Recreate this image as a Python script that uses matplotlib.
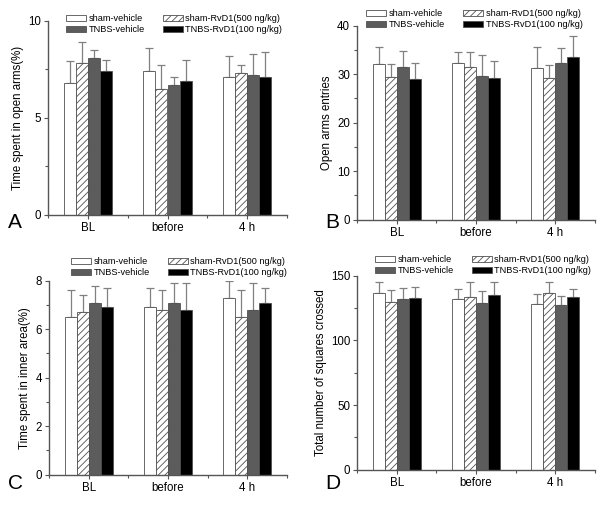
import matplotlib
matplotlib.use("Agg")
import matplotlib.pyplot as plt
import numpy as np
from matplotlib.ticker import MultipleLocator, FixedLocator

plt.rcParams['font.family'] = ['Liberation Sans', 'DejaVu Sans']
plt.rcParams['hatch.color'] = '#808080'
plt.rcParams['hatch.linewidth'] = 0.6

categories = ["BL", "before", "4 h"]
groups = ["sham-vehicle", "sham-RvD1(500 ng/kg)", "TNBS-vehicle", "TNBS-RvD1(100 ng/kg)"]

# Panel A: time spent in open arms (%)
a_mean = {"sham-vehicle": [6.8, 7.4, 7.1],
          "sham-RvD1(500 ng/kg)": [7.8, 6.5, 7.3],
          "TNBS-vehicle": [8.1, 6.7, 7.2],
          "TNBS-RvD1(100 ng/kg)": [7.4, 6.9, 7.1]}
a_err = {"sham-vehicle": [1.1, 1.2, 1.1],
         "sham-RvD1(500 ng/kg)": [1.1, 1.2, 0.4],
         "TNBS-vehicle": [0.4, 0.4, 1.1],
         "TNBS-RvD1(100 ng/kg)": [0.6, 1.1, 1.3]}

# Panel B: open arms entries
b_mean = {"sham-vehicle": [32.0, 32.2, 31.3],
          "sham-RvD1(500 ng/kg)": [29.4, 31.5, 29.2],
          "TNBS-vehicle": [31.5, 29.6, 32.2],
          "TNBS-RvD1(100 ng/kg)": [28.9, 29.3, 33.5]}
b_err = {"sham-vehicle": [3.5, 2.4, 4.4],
         "sham-RvD1(500 ng/kg)": [2.6, 3.1, 2.6],
         "TNBS-vehicle": [3.3, 4.3, 3.1],
         "TNBS-RvD1(100 ng/kg)": [3.3, 3.5, 4.3]}

# Panel C: time spent in inner area (%)
c_mean = {"sham-vehicle": [6.5, 6.9, 7.3],
          "sham-RvD1(500 ng/kg)": [6.7, 6.8, 6.5],
          "TNBS-vehicle": [7.1, 7.1, 6.8],
          "TNBS-RvD1(100 ng/kg)": [6.9, 6.8, 7.1]}
c_err = {"sham-vehicle": [1.1, 0.8, 0.7],
         "sham-RvD1(500 ng/kg)": [0.7, 0.8, 1.1],
         "TNBS-vehicle": [0.7, 0.8, 1.1],
         "TNBS-RvD1(100 ng/kg)": [0.8, 1.1, 0.6]}

# Panel D: total number of squares crossed
d_mean = {"sham-vehicle": [136.3, 132.0, 127.8],
          "sham-RvD1(500 ng/kg)": [129.4, 133.2, 136.3],
          "TNBS-vehicle": [132.0, 128.9, 127.1],
          "TNBS-RvD1(100 ng/kg)": [132.5, 135.3, 133.5]}
d_err = {"sham-vehicle": [8.5, 7.4, 7.8],
         "sham-RvD1(500 ng/kg)": [9.3, 11.6, 8.5],
         "TNBS-vehicle": [8.2, 9.0, 6.9],
         "TNBS-RvD1(100 ng/kg)": [8.5, 9.5, 5.9]}

styles = {"sham-vehicle": dict(color='white', hatch=None),
          "sham-RvD1(500 ng/kg)": dict(color='white', hatch='/////'),
          "TNBS-vehicle": dict(color='#5c5c5c', hatch=None),
          "TNBS-RvD1(100 ng/kg)": dict(color='black', hatch=None)}

W, H = 600, 505
fig = plt.figure(figsize=(W / 100, H / 100), dpi=100)

panels = [
    dict(rect=[48/W, 0.5743, 239/W, 0.3848], mean=a_mean, err=a_err, ylim=10, major=5, minor=2.5,
         ylabel="Time spent in open arms(%)", letter="A", lpos=(8/W, 1-232/H), leg=(66/W, 1-14/H)),
    dict(rect=[357/W, 0.5650, 238/W, 0.3842], mean=b_mean, err=b_err, ylim=40, major=10, minor=5,
         ylabel="Open arms entries", letter="B", lpos=(325/W, 1-232/H), leg=(366/W, 1-9/H)),
    dict(rect=[49/W, 0.0600, 238/W, 0.3842], mean=c_mean, err=c_err, ylim=8, major=2, minor=1,
         ylabel="Time spent in inner area(%)", letter="C", lpos=(8/W, 1-493/H), leg=(71/W, 1-257/H)),
    dict(rect=[357/W, 0.0699, 238/W, 0.3842], mean=d_mean, err=d_err, ylim=150, major=50, minor=25,
         ylabel="Total number of squares crossed", letter="D", lpos=(325/W, 1-493/H), leg=(375/W, 1-255/H)),
]

x = np.arange(1, len(categories) + 1)
w = 0.152
offsets = (np.arange(len(groups)) - 1.5) * w
spine_col = '#555555'

for p in panels:
    ax = fig.add_axes(p["rect"])
    handles = {}
    for g, off in zip(groups, offsets):
        st = styles[g]
        handles[g] = ax.bar(x + off, p["mean"][g], width=w, color=st['color'], hatch=st['hatch'],
                            edgecolor='#505050', linewidth=0.6, label=g, zorder=2)
        ax.errorbar(x + off, p["mean"][g], yerr=[np.zeros(len(x)), p["err"][g]],
                    fmt='none', ecolor='#808080', elinewidth=0.9, capsize=2.8,
                    capthick=0.9, zorder=1)
    ax.set_xlim(0.5, 3.5)
    ax.set_ylim(0, p["ylim"])
    ax.set_xticks(x)
    ax.set_xticklabels(categories)
    ax.xaxis.set_minor_locator(FixedLocator([0.5, 1.5, 2.5, 3.5]))
    ax.yaxis.set_major_locator(MultipleLocator(p["major"]))
    ax.yaxis.set_minor_locator(MultipleLocator(p["minor"]))
    for s in ['top', 'right']:
        ax.spines[s].set_visible(False)
    for s in ['left', 'bottom']:
        ax.spines[s].set_color(spine_col)
        ax.spines[s].set_linewidth(1.0)
    ax.tick_params(axis='both', which='major', direction='out', length=3, width=0.8,
                   color=spine_col, labelsize=8.3, pad=2)
    ax.tick_params(axis='both', which='minor', direction='out', length=2, width=0.8,
                   color=spine_col)
    ax.set_ylabel(p["ylabel"], fontsize=8.3, labelpad=3)
    order = [groups[0], groups[2], groups[1], groups[3]]
    ax.legend([handles[g] for g in order], order, ncol=2, loc='upper left',
              bbox_to_anchor=p["leg"], bbox_transform=fig.transFigure, frameon=False,
              fontsize=6.6, handlelength=2.2, handleheight=0.7, handletextpad=0.3,
              columnspacing=1.9, labelspacing=0.25, borderaxespad=0, borderpad=0)
    fig.text(p["lpos"][0], p["lpos"][1], p["letter"], fontsize=15, ha='left', va='bottom')

fig.savefig("out.png", dpi=100)
